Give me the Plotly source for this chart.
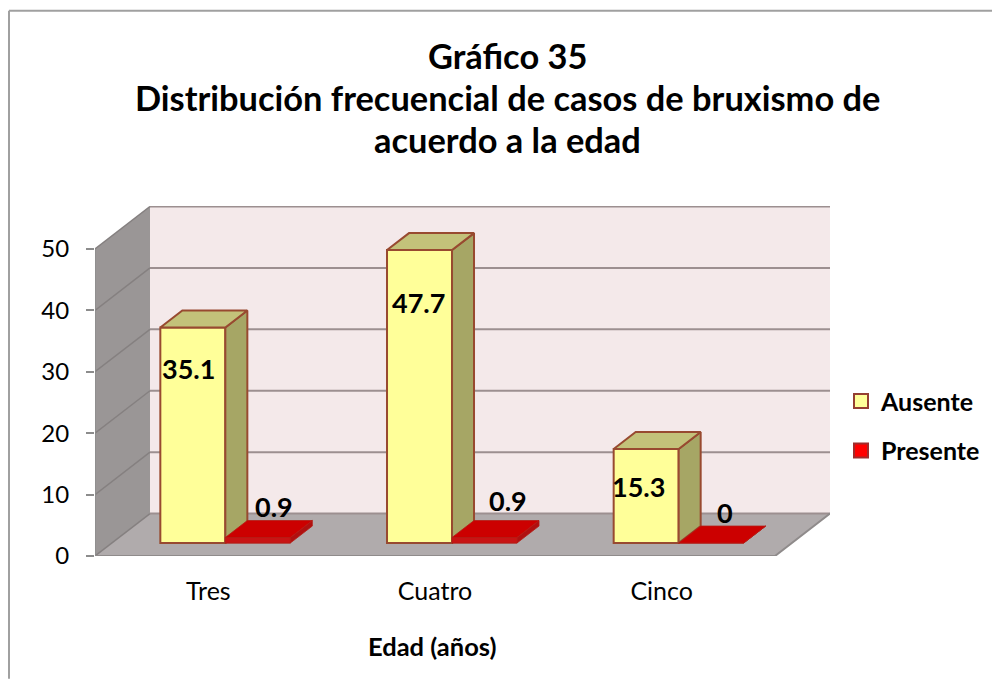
import plotly.graph_objects as go

categories = ["Tres", "Cuatro", "Cinco"]
ausente = [35.1, 47.7, 15.3]
presente = [0.9, 0.9, 0]
y_ticks = [0, 10, 20, 30, 40, 50]
title_lines = ["Gráfico 35", "Distribución frecuencial de casos de bruxismo de", "acuerdo a la edad"]

W, H = 992, 679
PX0, PX1, PY0, PY1 = 95, 830, 556, 205.5
CAT_PX = 226.67
UNIT_PX = 6.15
xr = (-0.5, -0.5 + (PX1 - PX0) / CAT_PX)
yr = (0, (PY0 - PY1) / UNIT_PX)

WALL_DX, WALL_DY = 55 / CAT_PX, 42.5 / UNIT_PX
PLANE_DX, PLANE_DY = 17 / CAT_PX, 13 / UNIT_PX
BAR_DX, BAR_DY = 22 / CAT_PX, 17 / UNIT_PX
BAR_W = 65 / CAT_PX
X_FRONT_END = xr[0] + (775 - PX0) / CAT_PX


def px(p):
    return (p - PX0) / (PX1 - PX0)


def py(p):
    return (PY0 - p) / (PY0 - PY1)


fig = go.Figure()


def wall(xs, ys, fill):
    path = "M " + " L ".join(f"{a},{b}" for a, b in zip(xs, ys)) + " Z"
    fig.add_shape(type="path", path=path, xref="x", yref="y", layer="below", fillcolor=fill, line=dict(width=0))


def wall_line(xs, ys, color, width):
    path = "M " + " L ".join(f"{a},{b}" for a, b in zip(xs, ys))
    fig.add_shape(type="path", path=path, xref="x", yref="y", layer="below", line=dict(color=color, width=width))


def poly(xs, ys, fill, edge, width):
    fig.add_trace(go.Scatter(
        x=xs + xs[:1], y=ys + ys[:1], mode="lines", fill="toself", fillcolor=fill,
        line=dict(color=edge, width=width), hoverinfo="skip", showlegend=False))


x0, x1 = xr[0], X_FRONT_END
wall([x0 + WALL_DX, x1 + WALL_DX, x1 + WALL_DX, x0 + WALL_DX], [WALL_DY, WALL_DY, 50 + WALL_DY, 50 + WALL_DY], "#f4e9ea")
wall([x0, x0 + WALL_DX, x0 + WALL_DX, x0], [0, WALL_DY, 50 + WALL_DY, 50], "#9a9696")
wall([x0, x1, x1 + WALL_DX, x0 + WALL_DX], [0, 0, WALL_DY, WALL_DY], "#b0abac")
for t in y_ticks:
    wall_line([x0, x0 + WALL_DX], [t, t + WALL_DY], "#858080", 1.5)
    wall_line([x0 + WALL_DX, x1 + WALL_DX], [t + WALL_DY, t + WALL_DY], "#9c8f90", 2)
wall_line([x0, x1, x1 + WALL_DX], [0, 0, WALL_DY], "#8f8b8b", 2)
wall_line([x0, x0], [0, 50], "#8c8c8c", 1.5)

series = [
    ("Ausente", ausente, -1, "#ffff99", "#a6a665", "#c3c27a", "#984a30", 2),
    ("Presente", presente, 1, "#c81414", "#b01010", "#cc0000", "#b51c14", 0.8),
]
for i in range(len(categories)):
    for name, vals, side, front, sidec, topc, edge, lw in series:
        v = vals[i]
        xc = i + PLANE_DX + side * BAR_W / 2
        xl, xh = xc - BAR_W / 2, xc + BAR_W / 2
        yb, yt = PLANE_DY, PLANE_DY + v
        fig.add_trace(go.Bar(
            x=[xc], y=[v], base=[yb], width=[BAR_W],
            marker=dict(color=front, line=dict(color=edge, width=lw)), showlegend=False, hoverinfo="skip"))
        poly([xh, xh + BAR_DX, xh + BAR_DX, xh], [yb, yb + BAR_DY, yt + BAR_DY, yt], sidec, edge, lw)
        poly([xl, xh, xh + BAR_DX, xl + BAR_DX], [yt, yt, yt + BAR_DY, yt + BAR_DY], topc, edge, lw)
        if side > 0 and v > 0:
            poly([xl, xh, xh, xl], [yb, yb, yt, yt], front, edge, lw)

fig.add_trace(go.Scatter(x=[None], y=[None], mode="markers", name="Ausente", legendgroup="a",
                         marker=dict(symbol="square", size=14, color="#ffff99", line=dict(color="#953f32", width=2))))
fig.add_trace(go.Scatter(x=[None], y=[None], mode="markers", name="Presente", legendgroup="p",
                         marker=dict(symbol="square", size=14, color="#ff0000", line=dict(color="#a02c2c", width=2))))

# value labels: pixel nudges from each bar top
label_nudges = {
    "Ausente": [(-4, -41), (-1, -52), (-8, -37)],
    "Presente": [(16, 31), (23, 37), (14, 31)],
}
for name, vals, side, *_ in series:
    for i, v in enumerate(vals):
        dx, dy = label_nudges[name][i]
        fig.add_annotation(
            x=i + PLANE_DX + side * BAR_W / 2, y=PLANE_DY + v,
            text=f"<b>{v:g}</b>", showarrow=False, xshift=dx, yshift=dy,
            font=dict(family="Lato", size=27, color="black"))

for text, yc in zip(title_lines, [55, 97, 139]):
    fig.add_annotation(xref="paper", yref="paper", x=px(507.5), y=py(yc), xanchor="center", yanchor="middle",
                       text=f"<b>{text}</b>", showarrow=False, font=dict(family="Lato", size=34.4, color="black"))
fig.add_annotation(xref="paper", yref="paper", x=px(432), y=py(646), xanchor="center", yanchor="middle",
                   text="<b>Edad (años)</b>", showarrow=False, font=dict(family="Lato", size=25.5, color="black"))

frame = dict(color="#a0a0a0", width=2)
fig.add_shape(type="line", xref="paper", yref="paper", x0=px(9), x1=px(9), y0=py(679), y1=py(10), line=frame)
fig.add_shape(type="line", xref="paper", yref="paper", x0=px(9), x1=px(992), y0=py(10), y1=py(10), line=frame)

fig.update_layout(
    width=W, height=H, autosize=False, barmode="overlay", showlegend=True,
    margin=dict(l=PX0, r=W - PX1, t=PY1, b=H - PY0, pad=0, autoexpand=False),
    paper_bgcolor="white", plot_bgcolor="rgba(0,0,0,0)",
    font=dict(family="Lato", color="black"),
    legend=dict(x=px(841), y=py(378), xanchor="left", yanchor="top",
                bgcolor="rgba(0,0,0,0)", tracegroupgap=14, font=dict(family="Lato", size=25, weight="bold"),
                itemwidth=30),
    xaxis=dict(range=list(xr), tickmode="array", tickvals=list(range(len(categories))), ticktext=categories,
               showgrid=False, zeroline=False, showline=False, ticks="",
               tickfont=dict(family="Lato", size=25, color="black"), ticklabelstandoff=18),
    yaxis=dict(range=list(yr), tickmode="array", tickvals=y_ticks, showgrid=False, zeroline=False, showline=False,
               ticks="outside", ticklen=8, tickwidth=1.5, tickcolor="#8c8c8c", ticklabelstandoff=12,
               tickfont=dict(family="Lato", size=24, color="black")),
)
fig.write_html("out.html", config=dict(displayModeBar=False),
               post_script="document.body.style.margin='0';document.body.style.overflow='hidden';")
